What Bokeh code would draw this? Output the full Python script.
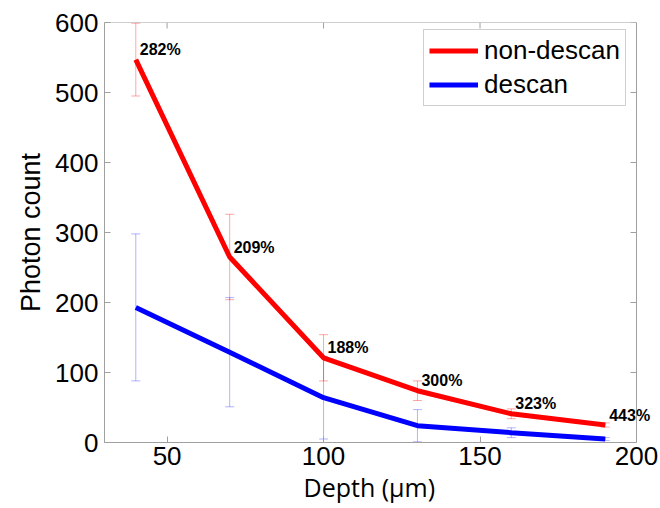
import math
from bokeh.plotting import figure
from bokeh.models import (ColumnDataSource, Whisker, TeeHead, Legend, LegendItem, FixedTicker,
                          LabelSet, Title)
from bokeh.embed import file_html
from bokeh.resources import INLINE
from bokeh.core.properties import value

depth = [40, 70, 100, 130, 160, 190]
non_descan = [547, 265, 121, 74, 41, 25]
non_descan_err = [52, 61, 33, 14, 7, 3]
descan = [193, 129, 64, 24, 14, 5]
descan_err = [105, 78, 59, 23, 7, 2]
ratio_labels = ["282%", "209%", "188%", "300%", "323%", "443%"]
x_ticks = [50, 100, 150, 200]
y_ticks = [0, 100, 200, 300, 400, 500, 600]
x_min, x_max = 30, 200
y_min, y_max = 0, 600

# layout (pixels)
box_left, box_width, right_pad = 104, 532, 20
x_pad = right_pad * (x_max - x_min) / box_width   # extra room so the last label is not clipped

src = ColumnDataSource(dict(
    x=depth, nd=non_descan, d=descan,
    nd_lo=[v - e for v, e in zip(non_descan, non_descan_err)],
    nd_hi=[v + e for v, e in zip(non_descan, non_descan_err)],
    d_lo=[v - e for v, e in zip(descan, descan_err)],
    d_hi=[v + e for v, e in zip(descan, descan_err)],
    lab=ratio_labels,
))

p = figure(width=box_left + box_width + right_pad + 4, height=508,
           output_backend="svg", toolbar_location=None,
           x_range=(x_min, x_max + x_pad), y_range=(y_min, y_max),
           min_border_left=box_left, min_border_right=4, min_border_top=22, min_border_bottom=66)
p.grid.visible = False
p.outline_line_color = None
p.background_fill_color = "white"

frame_col = "#a0a0a0"
tick_font = "Liberation Sans"
for ax in (p.xaxis[0], p.yaxis[0]):
    ax.axis_line_color = frame_col
    ax.major_tick_line_color = frame_col
    ax.major_tick_in = 6
    ax.major_tick_out = 0
    ax.minor_tick_line_color = None
    ax.major_label_text_font = tick_font
    ax.major_label_text_font_size = "26px"
    ax.major_label_text_color = "black"
    ax.axis_label_text_font_style = "normal"
    ax.axis_label_text_color = "black"
p.xaxis[0].bounds = (x_min, x_max)
p.xaxis[0].ticker = FixedTicker(ticks=x_ticks)
p.yaxis[0].ticker = FixedTicker(ticks=y_ticks)
p.yaxis[0].axis_label = "Photon count"
p.yaxis[0].axis_label_text_font = "Liberation Sans"
p.yaxis[0].axis_label_text_font_size = "27px"
p.xaxis[0].major_label_standoff = 4
p.yaxis[0].major_label_standoff = 6
p.yaxis[0].axis_label_standoff = 6

# x-axis title, centred under the box (not under the padded frame)
p.add_layout(Title(text="Depth (µm)", align="left", offset=199, standoff=0,
                   text_font="Open Sans", text_font_size="25px", text_font_style="normal",
                   text_color="black"), "below")

# top and right edges of the box, with inward ticks
p.segment(x0=[x_min, x_max], y0=[y_max, y_min], x1=[x_max, x_max], y1=[y_max, y_max],
          line_color=frame_col, line_width=1)
p.ray(x=x_ticks, y=[y_max] * len(x_ticks), length=6, length_units="screen",
      angle=-math.pi / 2, line_color=frame_col, line_width=1)
p.ray(x=[x_max] * len(y_ticks), y=y_ticks, length=6, length_units="screen",
      angle=math.pi, line_color=frame_col, line_width=1)

w1 = Whisker(source=src, base="x", upper="nd_hi", lower="nd_lo",
             line_color="#ff0000", line_alpha=0.35, line_width=1,
             upper_head=TeeHead(size=9, line_color="#ff0000", line_alpha=0.35, line_width=1),
             lower_head=TeeHead(size=9, line_color="#ff0000", line_alpha=0.35, line_width=1))
w2 = Whisker(source=src, base="x", upper="d_hi", lower="d_lo",
             line_color="#0000ff", line_alpha=0.3, line_width=1,
             upper_head=TeeHead(size=9, line_color="#0000ff", line_alpha=0.3, line_width=1),
             lower_head=TeeHead(size=9, line_color="#0000ff", line_alpha=0.3, line_width=1))
p.add_layout(w1)
p.add_layout(w2)

r1 = p.line("x", "nd", source=src, line_color="#ff0000", line_width=5)
r2 = p.line("x", "d", source=src, line_color="#0000ff", line_width=5)

p.add_layout(LabelSet(x="x", y="nd", text="lab", source=src, x_offset=4, y_offset=10,
                      text_font=value("Liberation Sans"), text_font_style="bold",
                      text_font_size="16px", text_align="left", text_baseline="middle",
                      text_color="black", level="overlay"))

legend = Legend(items=[LegendItem(label="non-descan", renderers=[r1]),
                       LegendItem(label="descan", renderers=[r2])],
                location=(319, 336), margin=0,
                label_text_font=tick_font, label_text_font_size="26px",
                label_text_color="black",
                label_height=29, glyph_height=29, glyph_width=49, label_standoff=6,
                spacing=3, padding=5,
                border_line_color=frame_col, border_line_width=1,
                background_fill_alpha=1.0)
p.add_layout(legend)

open("out.html", "w").write(file_html(p, INLINE))
